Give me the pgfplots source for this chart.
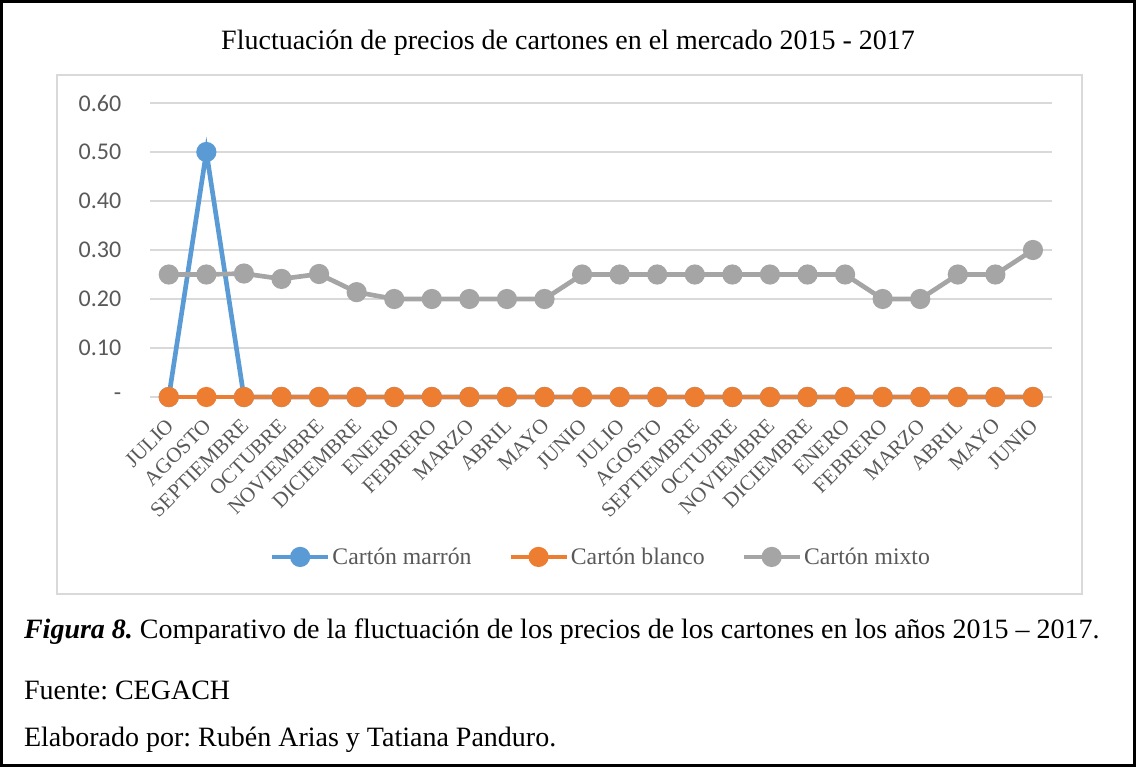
\documentclass[border=0pt]{standalone}
\usepackage{pgfplots}
\pgfplotsset{compat=1.18}
\usepackage{fontspec}
\setmainfont{Liberation Serif}
\newfontfamily\calibri{Carlito}
\definecolor{cblue}{HTML}{5B9BD5}
\definecolor{corange}{HTML}{ED7D31}
\definecolor{cgray}{HTML}{A5A5A5}
\definecolor{gridc}{HTML}{D9D9D9}
\definecolor{txt}{HTML}{595959}
\pgfplotstableread{
i marron blanco mixto
0 0 0 0.25
1 0.5 0 0.25
2 0 0 0.252
3 0 0 0.241
4 0 0 0.251
5 0 0 0.214
6 0 0 0.20
7 0 0 0.20
8 0 0 0.20
9 0 0 0.20
10 0 0 0.20
11 0 0 0.25
12 0 0 0.25
13 0 0 0.25
14 0 0 0.25
15 0 0 0.25
16 0 0 0.25
17 0 0 0.25
18 0 0 0.25
19 0 0 0.20
20 0 0 0.20
21 0 0 0.25
22 0 0 0.25
23 0 0 0.30
}\datatable
\begin{document}
\frenchspacing
\begin{tikzpicture}
\useasboundingbox (0,0) rectangle (852pt,-575.25pt);
\draw[line width=2.4pt] (1.2pt,-1.2pt) rectangle (850.8pt,-574.05pt);
\draw[gridc, line width=1pt] (42.75pt,-56.25pt) rectangle (811.5pt,-445.5pt);
\node[font=\fontsize{21}{24}\selectfont] at (426pt,-32.25pt) {Fluctuación de precios de cartones en el mercado 2015 - 2017};
\begin{axis}[
  at={(112.5pt,-297.75pt)}, anchor=south west,
  scale only axis, width=676.3pt, height=220.5pt,
  xmin=-0.5, xmax=23.5, ymin=0, ymax=0.6,
  clip=false,
  axis line style={draw=none},
  major tick length=0pt,
  ymajorgrids, grid style={gridc, line width=1.1pt},
  ytick={0,0.1,0.2,0.3,0.4,0.5,0.6},
  yticklabels={-,0.10,0.20,0.30,0.40,0.50,0.60},
  yticklabel style={font=\calibri\fontsize{18}{20}\selectfont, text=txt, xshift=-18pt},
  xtick={0,...,23},
  xticklabels={JULIO,AGOSTO,SEPTIEMBRE,OCTUBRE,NOVIEMBRE,DICIEMBRE,ENERO,FEBRERO,MARZO,ABRIL,MAYO,JUNIO,JULIO,AGOSTO,SEPTIEMBRE,OCTUBRE,NOVIEMBRE,DICIEMBRE,ENERO,FEBRERO,MARZO,ABRIL,MAYO,JUNIO},
  xticklabel style={font=\fontsize{15.8}{17}\selectfont, text=txt, inner sep=0pt, xshift=-3pt, yshift=-15pt, rotate=45, anchor=north east},
  legend columns=3,
  legend style={draw=none, at={(0.5,-0.544)}, anchor=center, font=\fontsize{17.8}{20}\selectfont, text=txt,
    nodes={inner sep=1.5pt},
    /tikz/every even column/.append style={column sep=26pt}, inner sep=0pt},
  legend image code/.code={\draw[mark repeat=2,mark phase=2] plot coordinates {(0pt,0pt) (21pt,0pt) (42pt,0pt)};},
  every axis plot/.append style={line width=3.5pt, mark=*, mark size=5.8pt},
]
\addplot[cblue, mark options={fill=cblue, draw=cblue}] table[x=i, y=marron] {\datatable};
\addplot[corange, mark options={fill=corange, draw=corange}] table[x=i, y=blanco] {\datatable};
\addplot[cgray, mark options={fill=cgray, draw=cgray}] table[x=i, y=mixto] {\datatable};
\legend{Cartón marrón, Cartón blanco, Cartón mixto}
\end{axis}
\node[anchor=west, font=\fontsize{21}{24}\selectfont] at (14.5pt,-474pt) {\textbf{\textit{Figura 8.}} Comparativo de la fluctuación de los precios de los cartones en los años 2015 – 2017.};
\node[anchor=west, font=\fontsize{21}{24}\selectfont] at (14.5pt,-517.5pt) {Fuente: CEGACH};
\node[anchor=west, font=\fontsize{21}{24}\selectfont] at (14.5pt,-555pt) {Elaborado por: Rubén Arias y Tatiana Panduro.};
\end{tikzpicture}
\end{document}
